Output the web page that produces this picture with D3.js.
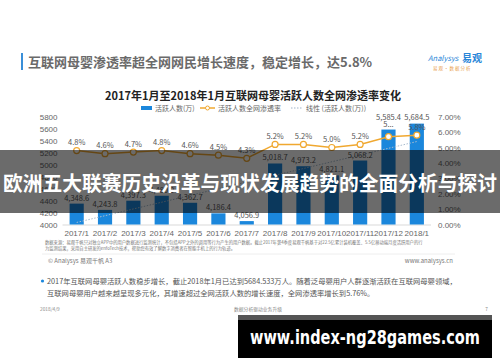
<!DOCTYPE html>
<html lang="zh">
<head>
<meta charset="UTF-8" />
<title>互联网母婴活跃人数</title>
<script src="https://d3js.org/d3.v7.min.js"></script>
<style>
  body { margin: 0; background: #fff; }
  svg { display: block; font-family: "Noto Sans CJK SC", "Noto Sans", sans-serif; }
  .axis text { fill: #666; font-size: 8px; }
  .axis path, .axis line { display: none; }
</style>
</head>
<body>
<svg id="canvas"></svg>
<script>
let months = ["2017/1","2017/2","2017/3","2017/4","2017/5","2017/6","2017/7","2017/8","2017/9","2017/10","2017/11","2017/12","2018/1"];
let users = [4348.6, 4243.8, 4397.3, 4480.0, 4362.7, 4186.4, 4056.9, 5018.7, 4973.2, 4821.1, 5068.2, 5585.4, 5684.5];
let rates = [4.8, 4.6, 4.7, 4.8, 4.6, 4.5, 4.3, 5.2, 5.2, 5.0, 5.2, 5.7, 5.8];
let rateLabels = ["4.8%","4.6%","4.7%","4.8%","4.6%","4.5%","4.3%","5.2%","5.2%","5.0%","5.2%","5...","5.8%"];
let leftTicks = [4000, 4200, 4400, 4600, 4800, 5000, 5200, 5400, 5600, 5800];
let rightTicks = [0, 1, 2, 3, 4, 5, 6, 7];

let width = 500;
let height = 362;
let plotLeft = 62.5, plotRight = 431, plotTop = 116.7, plotBottom = 224.5;

let svg = d3.select("svg").attr("width", width).attr("height", height);

// page header
svg.append("rect").attr("x", 21).attr("y", 53).attr("width", 2).attr("height", 17).attr("fill", "#3a8fd8");
svg.append("text").attr("x", 28).attr("y", 66.5).attr("font-size", 13).attr("font-weight", "bold")
  .attr("fill", "#6a6a6a").text("互联网母婴渗透率超全网网民增长速度，稳定增长，达5.8%");
svg.append("text").attr("x", 428).attr("y", 61).attr("font-size", 7.5).attr("fill", "#2a86d8")
  .attr("font-style", "italic").text("Analysys");
svg.append("text").attr("x", 462).attr("y", 62).attr("font-size", 10).attr("font-weight", "bold")
  .attr("fill", "#2a86d8").text("易观");
svg.append("text").attr("x", 433).attr("y", 70).attr("font-size", 4.5).attr("fill", "#e8a050")
  .text("易 观 · 数 据 分 析");

// chart title
svg.append("text").attr("x", 253).attr("y", 100).attr("text-anchor", "middle").attr("font-size", 11)
  .attr("font-weight", "bold").attr("fill", "#222").text("2017年1月至2018年1月互联网母婴活跃人数全网渗透率变化");

// legend
let lg = svg.append("g").attr("font-size", 7).attr("fill", "#666");
lg.append("rect").attr("x", 141).attr("y", 106).attr("width", 11).attr("height", 4).attr("fill", "#1b87dc");
lg.append("text").attr("x", 155).attr("y", 110.5).text("活跃人数(万)");
lg.append("line").attr("x1", 200).attr("x2", 215).attr("y1", 108).attr("y2", 108).attr("stroke", "#f0a830").attr("stroke-width", 1.5);
lg.append("circle").attr("cx", 207.5).attr("cy", 108).attr("r", 2).attr("fill", "#fff").attr("stroke", "#f0a830");
lg.append("text").attr("x", 218).attr("y", 110.5).text("活跃人数全网渗透率");
lg.append("line").attr("x1", 291).attr("x2", 303).attr("y1", 108).attr("y2", 108).attr("stroke", "#9fb3c8").attr("stroke-dasharray", "1.5,1.5");
lg.append("text").attr("x", 306).attr("y", 110.5).text("线性 (活跃人数(万))");

// scales
let xScale = d3.scaleBand().domain(months).range([plotLeft, plotRight]).paddingInner(0.5).paddingOuter(0.25);
let yScale = d3.scaleLinear().domain([4000, 5800]).range([plotBottom, plotTop]);
let rScale = d3.scaleLinear().domain([0, 7]).range([plotBottom, plotTop]);
let cx = (m) => xScale(m) + xScale.bandwidth() / 2;

// axes
svg.append("g").attr("class", "axis").attr("transform", "translate(" + plotLeft + ",0)")
  .call(d3.axisLeft(yScale).tickValues(leftTicks).tickSize(0).tickPadding(5).tickFormat(d3.format("d")));
svg.append("g").attr("class", "axis").attr("transform", "translate(" + plotRight + ",0)")
  .call(d3.axisRight(rScale).tickValues(rightTicks).tickSize(0).tickPadding(7).tickFormat((d) => d.toFixed(2) + "%"));
let xAxis = svg.append("g").attr("class", "axis").attr("transform", "translate(0," + plotBottom + ")")
  .call(d3.axisBottom(xScale).tickSize(0).tickPadding(6));
xAxis.selectAll("text").attr("font-size", 7.5).attr("fill", "#555");
svg.append("line").attr("x1", plotLeft).attr("x2", plotRight).attr("y1", plotBottom + 0.5).attr("y2", plotBottom + 0.5).attr("stroke", "#d9d9d9");

// bars
svg.selectAll("rect.bar").data(users).enter().append("rect").attr("class", "bar")
  .attr("x", (d, i) => xScale(months[i]))
  .attr("width", xScale.bandwidth())
  .attr("y", (d) => yScale(d))
  .attr("height", (d) => plotBottom - yScale(d))
  .attr("fill", "#1b87dc");

// linear trend of users
let n = users.length;
let mx = (n - 1) / 2;
let my = d3.mean(users);
let slope = d3.sum(users, (d, i) => (i - mx) * (d - my)) / d3.sum(users, (d, i) => (i - mx) * (i - mx));
svg.append("line")
  .attr("x1", cx(months[0])).attr("y1", yScale(my - slope * mx))
  .attr("x2", cx(months[n - 1])).attr("y2", yScale(my + slope * mx))
  .attr("stroke", "#a9bccf").attr("stroke-width", 1).attr("stroke-dasharray", "1.5,1.5");

// bar labels (tall bars get pushed to the top edge)
svg.selectAll("text.blab").data(users).enter().append("text").attr("class", "blab")
  .attr("x", (d, i) => cx(months[i]))
  .attr("y", (d) => {
    let ly = yScale(d) - 6;
    return (ly < 126 ? plotTop : ly) + 3;
  })
  .attr("text-anchor", "middle").attr("font-size", 7.5).attr("fill", "#555")
  .text((d) => d3.format(",.1f")(d));

// rate line
let line = d3.line().x((d, i) => cx(months[i])).y((d) => rScale(d));
svg.append("path").datum(rates).attr("d", line).attr("fill", "none")
  .attr("stroke", "#f0a830").attr("stroke-width", 1.5);
svg.selectAll("circle.pt").data(rates).enter().append("circle").attr("class", "pt")
  .attr("cx", (d, i) => cx(months[i])).attr("cy", (d) => rScale(d)).attr("r", 3)
  .attr("fill", "#fff").attr("stroke", "#f0a830").attr("stroke-width", 1.2);
svg.selectAll("text.rlab").data(rates).enter().append("text").attr("class", "rlab")
  .attr("x", (d, i) => cx(months[i]))
  .attr("y", (d, i) => rScale(d) - (i == 11 ? 13 : 8.5) + 3)
  .attr("text-anchor", "middle").attr("font-size", 7.5).attr("fill", "#555")
  .text((d, i) => rateLabels[i]);

// source note
let note = svg.append("g").attr("font-size", 4.3).attr("fill", "#777");
note.append("text").attr("x", 45).attr("y", 244)
  .text("数据来源：易观千帆只对独立APP中的用户数据进行监测统计，不包括APP之外的调用等行为产生的用户数据。截止2017年第4季度易观千帆基于对22.5亿累计装机覆盖、5.5亿移动端月度活跃用户的行");
note.append("text").attr("x", 45).attr("y", 250)
  .text("为监测结果，采用自主研发的enfoTech技术，帮助您有效了解数字消费者在智能手机上的行为轨迹。");
svg.append("line").attr("x1", 42).attr("x2", 455).attr("y1", 254).attr("y2", 254).attr("stroke", "#eee");
svg.append("text").attr("x", 48).attr("y", 263).attr("font-size", 6).attr("fill", "#777").text("© Analysys 易观千帆 A3");
svg.append("text").attr("x", 453).attr("y", 263).attr("text-anchor", "end").attr("font-size", 6).attr("fill", "#777").text("www.analysys.cn");

// summary
svg.append("circle").attr("cx", 42.5).attr("cy", 281).attr("r", 1.6).attr("fill", "#1b87dc");
let summ = svg.append("g").attr("font-size", 7.3).attr("fill", "#555");
summ.append("text").attr("x", 47).attr("y", 283.5)
  .text("2017年互联网母婴活跃人数稳步增长，截止2018年1月已达到5684.533万人。随着泛母婴用户人群逐渐活跃在互联网母婴领域，");
summ.append("text").attr("x", 47).attr("y", 296)
  .text("互联网母婴用户越来越呈现多元化，其增速超过全网活跃人数的增长速度，全网渗透率增长到5.76%。");

// footer
let foot = svg.append("g").attr("font-size", 4.8).attr("fill", "#888");
foot.append("text").attr("x", 40).attr("y", 311).text("2018/4/9");
foot.append("text").attr("x", 258).attr("y", 311).attr("text-anchor", "middle").text("数据分析驱动业务升级");
foot.append("text").attr("x", 488).attr("y", 311).attr("text-anchor", "end").text("7");

// overlay band with headline
svg.append("rect").attr("x", 0).attr("y", 150).attr("width", width).attr("height", 63).attr("fill", "rgba(0,0,0,0.58)");
svg.append("text").attr("x", 250).attr("y", 191).attr("text-anchor", "middle").attr("font-size", 20.5)
  .attr("textLength", 494).attr("lengthAdjust", "spacingAndGlyphs")
  .attr("font-weight", "bold").attr("fill", "#fff").text("欧洲五大联赛历史沿革与现状发展趋势的全面分析与探讨");

// site mark
svg.append("rect").attr("x", 238).attr("y", 315).attr("width", 254).attr("height", 5).attr("fill", "#555");
svg.append("rect").attr("x", 238).attr("y", 320).attr("width", 254).attr("height", 38).attr("fill", "#000");
svg.append("text").attr("x", 365).attr("y", 344).attr("text-anchor", "middle").attr("font-size", 19)
  .attr("textLength", 230).attr("lengthAdjust", "spacingAndGlyphs")
  .attr("font-weight", "bold").attr("font-family", "'DejaVu Sans', sans-serif").attr("fill", "#fff").text("www.index-ng28games.com");
</script>
</body>
</html>
